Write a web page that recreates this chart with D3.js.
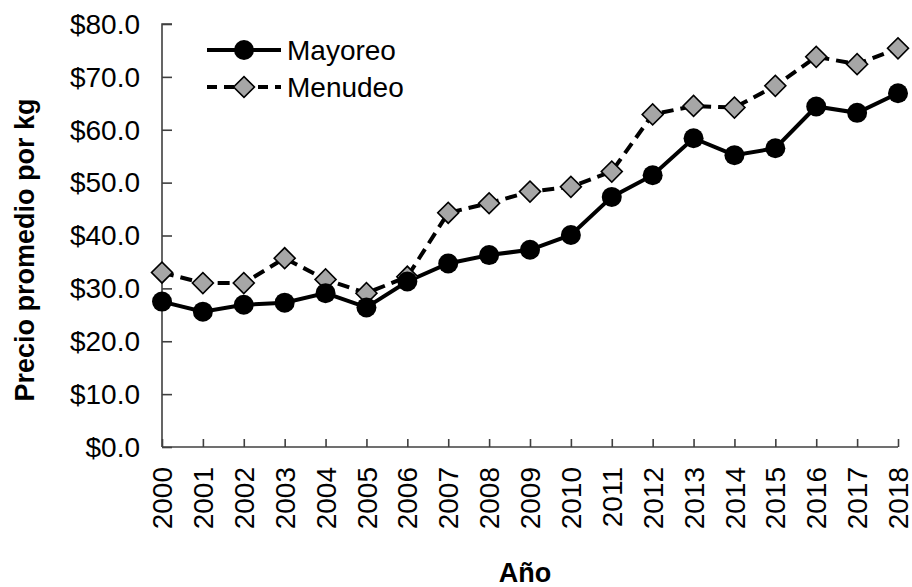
<!DOCTYPE html>
<html>
<head>
<meta charset="utf-8">
<script src="https://cdn.jsdelivr.net/npm/d3@7"></script>
<style>
  html, body { margin: 0; padding: 0; background: #fff; }
  svg { display: block; font-family: "Liberation Sans", Arial, sans-serif; }
</style>
</head>
<body>
<svg id="chart" width="912" height="587"></svg>
<script>
const years = ["2000","2001","2002","2003","2004","2005","2006","2007","2008","2009","2010","2011","2012","2013","2014","2015","2016","2017","2018"];
const mayoreo = [27.5, 25.6, 26.9, 27.3, 29.1, 26.4, 31.3, 34.7, 36.3, 37.3, 40.1, 47.3, 51.4, 58.4, 55.2, 56.5, 64.4, 63.2, 66.9];
const menudeo = [33.0, 31.0, 31.0, 35.7, 31.7, 29.1, 32.2, 44.3, 46.1, 48.3, 49.2, 52.1, 62.9, 64.5, 64.2, 68.3, 73.8, 72.4, 75.4];
const yTicks = [0, 10, 20, 30, 40, 50, 60, 70, 80];
const seriesNames = ["Mayoreo", "Menudeo"];
const yTitle = "Precio promedio por kg";
const xTitle = "Año";

(function () {
const svg = d3.select("#chart");
const mLeft = 162, mRight = 898, mTop = 24, mBottom = 447;

const x = d3.scalePoint().domain(years).range([mLeft, mRight]);
const y = d3.scaleLinear().domain([0, 80]).range([mBottom, mTop]);

const axisColor = "#404040";

// Y axis (ticks point inward)
const yAxis = svg.append("g")
  .attr("transform", `translate(${mLeft},0)`)
  .call(d3.axisRight(y).tickValues(yTicks).tickSize(10).tickFormat(""));
yAxis.select(".domain").attr("stroke", axisColor).attr("stroke-width", 1.6).attr("d", `M10,${mTop}H0V${mBottom}`);
yAxis.selectAll(".tick line").attr("stroke", axisColor).attr("stroke-width", 1.6);

svg.append("g").selectAll("text").data(yTicks).join("text")
  .attr("x", mLeft - 22)
  .attr("y", d => y(d))
  .attr("dy", "0.35em")
  .attr("text-anchor", "end")
  .attr("font-size", 28)
  .attr("fill", "#000")
  .text(d => "$" + d3.format(".1f")(d));

// X axis (ticks point upward)
const xAxis = svg.append("g")
  .attr("transform", `translate(0,${mBottom})`)
  .call(d3.axisTop(x).tickSize(8).tickFormat(""));
xAxis.select(".domain").attr("stroke", axisColor).attr("stroke-width", 1.6).attr("d", `M${mLeft},0H${mRight}`);
xAxis.selectAll(".tick line").attr("stroke", axisColor).attr("stroke-width", 1.6);

svg.append("g").selectAll("text").data(years).join("text")
  .attr("transform", d => `translate(${x(d)},${mBottom + 20}) rotate(-90)`)
  .attr("dy", "0.36em")
  .attr("text-anchor", "end")
  .attr("font-size", 28)
  .attr("fill", "#000")
  .text(d => d);

// Axis titles
svg.append("text")
  .attr("transform", `translate(34,250) rotate(-90)`)
  .attr("text-anchor", "middle")
  .attr("font-size", 27)
  .attr("font-weight", "bold")
  .text(yTitle);

svg.append("text")
  .attr("x", 525)
  .attr("y", 582)
  .attr("text-anchor", "middle")
  .attr("font-size", 27)
  .attr("font-weight", "bold")
  .text(xTitle);

// Lines
const line = d3.line().x((d, i) => x(years[i])).y(d => y(d));

svg.append("path").datum(menudeo)
  .attr("d", line)
  .attr("fill", "none").attr("stroke", "#000").attr("stroke-width", 4)
  .attr("stroke-dasharray", "12,7");

svg.append("path").datum(mayoreo)
  .attr("d", line)
  .attr("fill", "none").attr("stroke", "#000").attr("stroke-width", 4);

const diamond = d3.symbol().type(d3.symbolSquare).size(220);

svg.append("g").selectAll("path").data(menudeo).join("path")
  .attr("transform", (d, i) => `translate(${x(years[i])},${y(d)}) rotate(45)`)
  .attr("d", diamond)
  .attr("fill", "#a6a6a6").attr("stroke", "#000").attr("stroke-width", 1.6);

svg.append("g").selectAll("circle").data(mayoreo).join("circle")
  .attr("cx", (d, i) => x(years[i]))
  .attr("cy", d => y(d))
  .attr("r", 10)
  .attr("fill", "#000");

// Legend
const legY = [50, 87];
const lg = svg.append("g");
lg.append("line").attr("x1", 207).attr("x2", 281).attr("y1", legY[0]).attr("y2", legY[0])
  .attr("stroke", "#000").attr("stroke-width", 4);
lg.append("circle").attr("cx", 244).attr("cy", legY[0]).attr("r", 10).attr("fill", "#000");
lg.append("line").attr("x1", 207).attr("x2", 281).attr("y1", legY[1]).attr("y2", legY[1])
  .attr("stroke", "#000").attr("stroke-width", 4).attr("stroke-dasharray", "10,7");
lg.append("path").attr("transform", `translate(244,${legY[1]}) rotate(45)`).attr("d", diamond)
  .attr("fill", "#a6a6a6").attr("stroke", "#000").attr("stroke-width", 1.6);
lg.selectAll("text").data(seriesNames).join("text")
  .attr("x", 287)
  .attr("y", (d, i) => legY[i])
  .attr("dy", "0.35em")
  .attr("font-size", 28)
  .text(d => d);
})();
</script>
</body>
</html>
